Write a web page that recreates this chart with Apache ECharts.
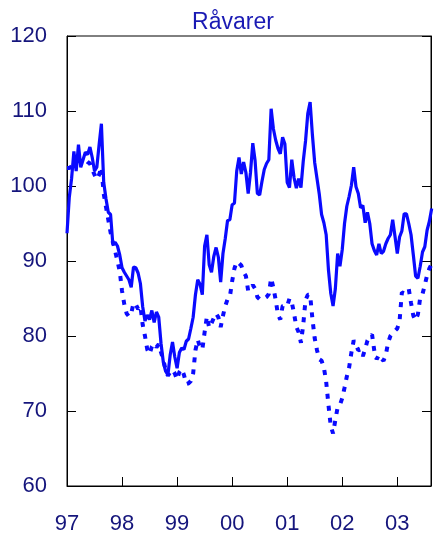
<!DOCTYPE html>
<html>
<head>
<meta charset="utf-8">
<script src="https://cdn.jsdelivr.net/npm/echarts@6/dist/echarts.min.js"></script>
<style>html,body{margin:0;padding:0;background:#fff;}#c{width:434px;height:536px;}</style>
</head>
<body>
<div id="c"></div>
<script>
// Half-monthly observations starting January 1997
var startYear = 1997;
var stepsPerYear = 24;
var yearTicks = ['97','98','99','00','01','02','03'];
var solidValues = [
93.7,98.5,101,104.6,102,105.5,102.5,103.5,104.5,104.2,105.2,103.8,102,102.5,105.5,108.3,
100.5,98.3,96.5,96.2,92.2,92.5,92,90.8,89.1,88.5,88,87.5,86.5,89.2,89.1,88.4,
87,83.9,82,82.8,82.2,83.4,81.8,83.2,82.5,79,76.5,75.3,74.8,77.5,79.2,77.2,
75.7,77.8,78.4,78.2,79.3,79.6,81,82.5,85.5,87.5,86.9,85.5,92,93.5,89.5,88.5,
90.6,91.8,90.5,87.2,91,93,95.4,95.5,97.5,97.7,102,103.8,101.6,103.2,101.8,99,
101.8,105.7,103.4,99,98.8,100.6,102.2,103,103.5,110.3,107.6,106.1,105,104.3,106.5,105.6,
100.5,99.8,103.5,101.1,99.7,101,99.8,103.3,106,109.7,111.2,106.8,103.1,101,98.9,96.2,
95.1,93.5,88.8,85.7,84,86.3,91,89.3,91.5,95,97.3,98.6,100.1,102.5,99.9,99,
97.1,97.4,95.1,96.5,95,92.3,91.4,90.8,92.3,91,91.3,92.3,93,93.5,95.5,93.3,
91,93.2,94,96.3,96.3,95,93.5,90.8,88,87.7,89.3,91.2,91.9,94.1,95.3,97
];
var dashedValues = [
102.4,102.4,102.6,103,103.2,103.4,103.5,103.5,103.5,103.2,103,102.2,101.5,100.9,101.5,102.5,
99,97.2,95.5,93.8,92.5,91.3,90,88.6,86,84.2,83,82.6,83,84.4,84.2,83.6,
84,81.5,80,78.2,77.6,78.6,79,78.5,78.9,77.8,76.8,75.5,74.7,75.2,75.5,75,
74.2,75.2,75.6,74.8,73.6,73.7,74,75,78.1,79.5,78.5,78.2,80.5,82.6,81.1,81.7,
82.4,83,82.5,81.2,82.7,84,84.9,85.2,87.3,89,89.9,89.7,89.4,88.5,88,86,
86.3,86.8,86.3,85.2,84.9,85,85,85.2,85.6,87.7,86.4,84.8,82.8,82.2,84,84.1,
84,85,84.5,83,81.2,80.5,79.1,81.5,84.8,85.5,85.5,82.3,79.7,78.1,76.9,76.7,
75.8,73.9,70.8,68,67,68.8,70.5,70.8,71.7,73.1,74.6,75.8,77.8,79.4,78.8,78.1,
78.2,77.3,78.3,79.4,79.9,80.2,78,76.9,77.5,77,76.7,77.5,79.1,80,80.4,80.7,
81,82,85.8,85.7,86,86.3,84.4,82.7,82.1,82.9,85.1,85.6,86.8,88.1,89,89.6
];

function toPairs(vals){
  return vals.map(function(v,i){ return [startYear + i/stepsPerYear, v]; });
}

var navy = '#15157c';
var chart = echarts.init(document.getElementById('c'), null, {renderer:'canvas'});
chart.setOption({
  animation:false,
  backgroundColor:'#ffffff',
  title:{
    text:'Råvarer', left:228, top:6, textAlign:'center',
    textStyle:{color:'#1a1ab4', fontSize:23, fontWeight:'normal', fontFamily:'Liberation Sans'}
  },
  grid:{left:67, top:36, width:367, bottom:50, show:true, borderColor:'#000', borderWidth:1, backgroundColor:'transparent'},
  xAxis:{
    type:'value', min:1997, max:1997+367/55.5, interval:1,
    axisLine:{show:true, lineStyle:{color:'#000', width:1}},
    axisTick:{show:true, inside:true, length:9, lineStyle:{color:'#000'}},
    splitLine:{show:false},
    axisLabel:{
      margin:27, color:navy, fontSize:22, fontFamily:'Liberation Sans',
      formatter:function(v){
        var k = Math.round(v - 1997);
        if (Math.abs(v - 1997 - k) > 1e-6) return '';
        return yearTicks[k] || '';
      }
    }
  },
  yAxis:[{
    type:'value', min:60, max:120, interval:10,
    axisLine:{show:true, lineStyle:{color:'#000', width:1}},
    axisTick:{show:true, inside:true, length:9, lineStyle:{color:'#000'}},
    splitLine:{show:false},
    axisLabel:{margin:20, color:navy, fontSize:22, fontFamily:'Liberation Sans'}
  },{
    type:'value', min:60, max:120, interval:10, position:'right',
    axisLine:{show:true, lineStyle:{color:'#000', width:1}},
    axisTick:{show:true, inside:true, length:9, lineStyle:{color:'#000'}},
    splitLine:{show:false},
    axisLabel:{show:false}
  }],
  series:[{
    type:'line', name:'dashed', data:toPairs(dashedValues), showSymbol:false, symbol:'none',
    lineStyle:{color:'#0a0aff', width:4, type:[5,7]}, clip:true, z:2
  },{
    type:'line', name:'solid', data:toPairs(solidValues), showSymbol:false, symbol:'none',
    lineStyle:{color:'#0a0aff', width:3.2}, clip:true, z:3
  }]
});
</script>
</body>
</html>
